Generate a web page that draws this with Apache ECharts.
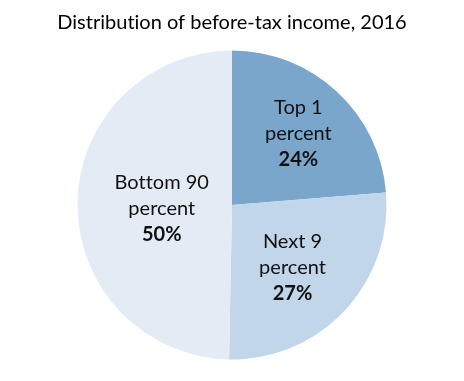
<!DOCTYPE html>
<html>
<head>
<meta charset="utf-8">
<script src="https://cdn.jsdelivr.net/npm/echarts@6/dist/echarts.min.js"></script>
<style>html,body{margin:0;padding:0;background:#fff}#c{width:464px;height:381px;font-variant-ligatures:none}</style>
</head>
<body>
<div id="c"></div>
<script>
const categories = ['Top 1\npercent', 'Next 9\npercent', 'Bottom 90\npercent'];
const values = [23.7, 26.6, 49.7];
const shownLabels = ['24%', '27%', '50%'];
const colors = ['#7aa6cc', '#c2d6e9', '#e3ecf5'];
const offsets = [[12, -12], [2, 8], [10, 4]];

const chart = echarts.init(document.getElementById('c'));
chart.setOption({
  animation: false,
  title: {
    text: 'Distribution of before-tax income, 2016',
    left: 'center', top: 8,
    textStyle: { fontFamily: 'Lato', fontSize: 20, fontWeight: 'normal', color: '#000' }
  },
  series: [{
    type: 'pie',
    center: [232, 205],
    radius: 154.5,
    startAngle: 90,
    clockwise: true,
    silent: true,
    itemStyle: { borderWidth: 0 },
    label: {
      position: 'inside',
      fontFamily: 'Lato',
      fontSize: 20,
      color: '#111',
      lineHeight: 26,
      align: 'center',
      rich: { b: { fontFamily: 'Lato', fontSize: 20, fontWeight: 'bold', color: '#111', lineHeight: 26 } }
    },
    labelLine: { show: false },
    data: categories.map((c, i) => ({
      name: c, value: values[i],
      itemStyle: { color: colors[i] },
      label: { offset: offsets[i], formatter: () => c + '\n{b|' + shownLabels[i] + '}' }
    }))
  }]
});
</script>
</body>
</html>
